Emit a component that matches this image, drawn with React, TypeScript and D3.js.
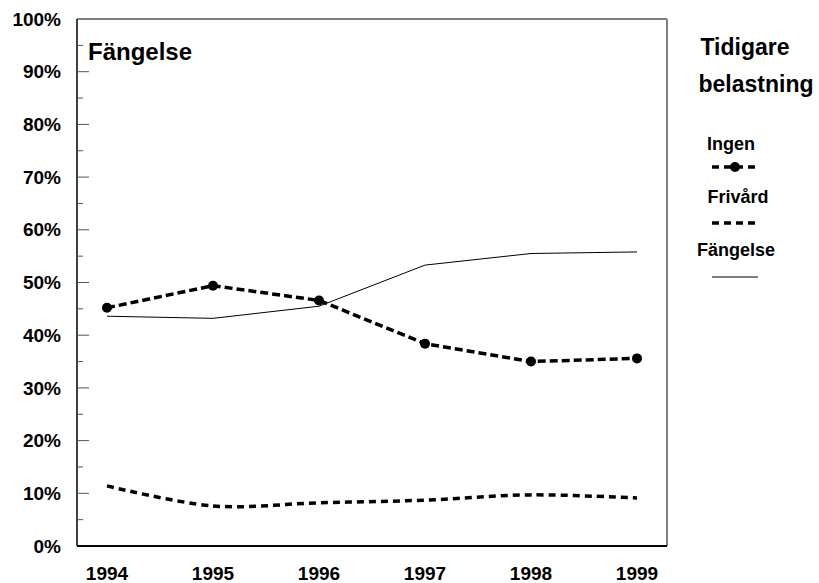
import React from "react";
import * as d3 from "d3";

const years = ["1994", "1995", "1996", "1997", "1998", "1999"];
const ingen = [45.2, 49.4, 46.6, 38.4, 35.0, 35.6];
const frivard = [11.4, 7.6, 8.2, 8.7, 9.7, 9.1];
const fangelse = [43.6, 43.2, 45.5, 53.3, 55.5, 55.8];
const yTicks = [0, 10, 20, 30, 40, 50, 60, 70, 80, 90, 100];
const yMinor = [5, 15, 25, 35, 45, 55, 65, 75, 85, 95];

const W = 819;
const H = 583;
const left = 77, right = 667, top = 19, bottom = 546;
const font = "Arimo, 'Liberation Sans', Arial, sans-serif";

export default function App() {
  const x = d3.scalePoint<string>().domain(years).range([left, right]).padding(0.283);
  const y = d3.scaleLinear().domain([0, 100]).range([bottom, top]);

  const smooth = d3
    .line<number>()
    .x((_, i) => x(years[i]) as number)
    .y((d) => y(d))
    .curve(d3.curveCatmullRom.alpha(0));
  const straight = d3
    .line<number>()
    .x((_, i) => x(years[i]) as number)
    .y((d) => y(d));

  const lx0 = 712, lx1 = 758;
  const legendLine = d3.line<[number, number]>();

  return (
    <svg width={W} height={H} style={{ position: "absolute", left: 0, top: 0 }} fontFamily={font}>
      <rect x={0} y={0} width={W} height={H} fill="#fff" />
      {/* frame */}
      <line x1={left} x2={right} y1={top} y2={top} stroke="#000" strokeWidth={1} />
      <line x1={right} x2={right} y1={top} y2={bottom} stroke="#808080" strokeWidth={2} />
      <line x1={left} x2={right} y1={bottom} y2={bottom} stroke="#000" strokeWidth={2} />
      <line x1={left} x2={left} y1={top} y2={bottom} stroke="#000" strokeWidth={1.5} />
      {yTicks.map((t) => (
        <g key={t}>
          {t > 0 && t < 100 && (
            <line x1={left} x2={left + 12} y1={y(t)} y2={y(t)} stroke="#555" strokeWidth={1} />
          )}
          <text x={61} y={y(t)} dy="0.35em" textAnchor="end" fontWeight="bold" fontSize={19}>
            {t}%
          </text>
        </g>
      ))}
      {yMinor.map((t) => (
        <line key={t} x1={left} x2={left + 6} y1={y(t)} y2={y(t)} stroke="#555" strokeWidth={1} />
      ))}
      {years.map((yr) => (
        <text key={yr} x={x(yr)} y={580} textAnchor="middle" fontWeight="bold" fontSize={19}>
          {yr}
        </text>
      ))}
      {/* series */}
      <path d={straight(fangelse) || ""} fill="none" stroke="#000" strokeWidth={1} />
      <path d={smooth(frivard) || ""} fill="none" stroke="#000" strokeWidth={3.5} strokeDasharray="7 5" />
      <path d={straight(ingen) || ""} fill="none" stroke="#000" strokeWidth={3.5} strokeDasharray="8 4" />
      {ingen.map((v, i) => (
        <circle key={i} cx={x(years[i])} cy={y(v)} r={5} fill="#000" />
      ))}
      {/* title */}
      <text x={88} y={60} fontWeight="bold" fontSize={24}>Fängelse</text>
      {/* legend */}
      <text x={745} y={55} textAnchor="middle" fontWeight="bold" fontSize={23}>Tidigare</text>
      <text x={756} y={92} textAnchor="middle" fontWeight="bold" fontSize={23}>belastning</text>
      <text x={731} y={150} textAnchor="middle" fontWeight="bold" fontSize={18}>Ingen</text>
      <path d={legendLine([[lx0, 167], [lx1, 167]]) || ""} stroke="#000" strokeWidth={3.5} strokeDasharray="7 5" />
      <circle cx={735} cy={167} r={5} fill="#000" />
      <text x={738} y={203} textAnchor="middle" fontWeight="bold" fontSize={18}>Frivård</text>
      <path d={legendLine([[lx0, 223], [lx1, 223]]) || ""} stroke="#000" strokeWidth={3.5} strokeDasharray="7 5" />
      <text x={736} y={256} textAnchor="middle" fontWeight="bold" fontSize={18}>Fängelse</text>
      <path d={legendLine([[lx0, 277], [lx1, 277]]) || ""} stroke="#000" strokeWidth={1} />
    </svg>
  );
}
